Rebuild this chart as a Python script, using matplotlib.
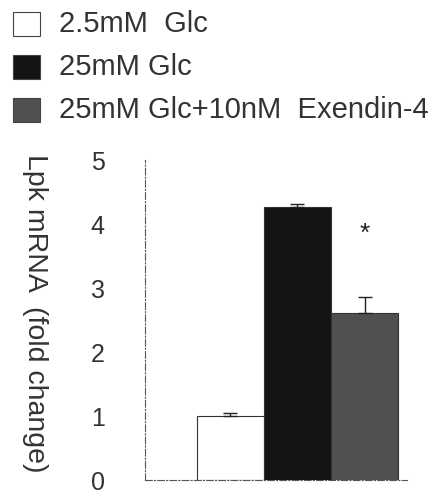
import matplotlib
matplotlib.use("Agg")
import matplotlib.pyplot as plt
from matplotlib.patches import Rectangle

categories = ["2.5mM  Glc", "25mM Glc", "25mM Glc+10nM  Exendin-4"]
values = [1.0, 4.27, 2.61]
errors = [0.04, 0.04, 0.25]
colors = ["white", "#141414", "#505050"]
yticks = [0, 1, 2, 3, 4, 5]

plt.rcParams['font.family'] = ['Liberation Sans', 'DejaVu Sans']
W, H = 432, 497
fig = plt.figure(figsize=(W/100, H/100), dpi=100)
ax = fig.add_axes([145/W, 17/H, (407-145)/W, 320/H])

x = list(range(len(values)))
ax.bar(x, values, width=1.0, color=colors, edgecolor="#333333", linewidth=0.8, zorder=2)
ax.errorbar(x, values, yerr=[[0]*len(errors), errors], fmt="none", ecolor="#222222",
            elinewidth=1.0, capsize=5, capthick=1.0, zorder=3)
ax.text(2, 3.85, "*", ha="center", va="center", fontsize=19, color="#222222")

ax.set_xlim(-1.27, 2.63)
ax.set_ylim(0, 5)
ax.set_yticks(yticks)
ax.set_yticklabels([str(t) for t in yticks], fontsize=18, color="#333333")
ax.tick_params(axis="y", length=0, pad=29)
ax.set_xticks([])
for s in ["top", "right"]:
    ax.spines[s].set_visible(False)
for s in ["left", "bottom"]:
    ax.spines[s].set_linestyle((0, (6, 2, 1, 2)))
    ax.spines[s].set_color("#555555")
    ax.spines[s].set_linewidth(0.8)

fig.text(35/W, 1 - 313/H, "Lpk mRNA  (fold change)", rotation=-90, fontsize=20.5,
         color="#333333", ha="center", va="center")

rows_y = [24, 67, 110]
for c, lab, yy in zip(colors, categories, rows_y):
    fig.patches.append(Rectangle((13/W, 1 - (yy+12)/H), 27/W, 24/H, transform=fig.transFigure,
                                 facecolor=c, edgecolor="#444444", linewidth=0.8))
    fig.text(59/W, 1 - yy/H, lab, fontsize=21, va="center", ha="left", color="#333333")

fig.savefig("out.png", dpi=100)
